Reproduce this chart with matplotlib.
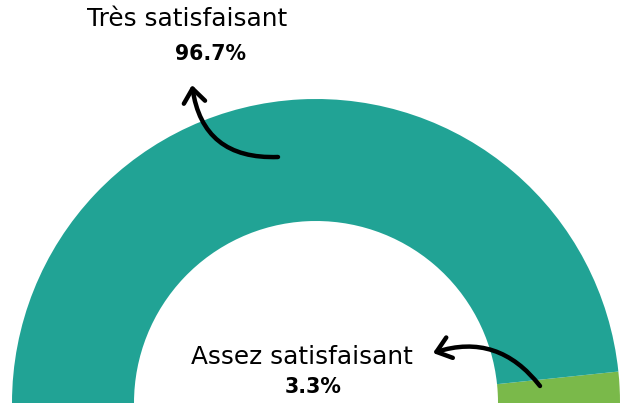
import matplotlib.pyplot as plt
from matplotlib.patches import Wedge, FancyArrowPatch

# Data
labels = ['Très satisfaisant', 'Assez satisfaisant']
values = [96.7, 3.3]
colors = ['#21a395', '#7ab94a']

plt.rcParams['font.family'] = ['DejaVu Sans']

fig = plt.figure(figsize=(6.29, 4.03), dpi=100)
ax = fig.add_axes([0, 0, 1, 1])
ax.set_xlim(0, 629)
ax.set_ylim(0, 403)
ax.set_aspect('equal')
ax.axis('off')

cx, cy = 316, 0
r_out, r_in = 304, 182

# half donut, drawn from the right end (0 deg) to the left (180 deg)
total = sum(values)
start = 0
for v, c in zip(values[::-1], colors[::-1]):
    span = 180 * v / total
    ax.add_patch(Wedge((cx, cy), r_out, start, start + span,
                       width=r_out - r_in, facecolor=c, edgecolor='none'))
    start += span

# labels
ax.text(187, 384, labels[0], ha='center', va='center', fontsize=17.8)
ax.text(210, 349, f'{values[0]}%', ha='center', va='center', fontsize=14.8,
        fontweight='bold')
ax.text(302, 46, labels[1], ha='center', va='center', fontsize=17.8)
ax.text(313, 16, f'{values[1]}%', ha='center', va='center', fontsize=14.8,
        fontweight='bold')

# curved arrows
arrow_kw = dict(arrowstyle='->,head_length=0.45,head_width=0.35', lw=3.2,
                mutation_scale=22, color='black', capstyle='round',
                joinstyle='round', shrinkA=0, shrinkB=0)
ax.add_patch(FancyArrowPatch((278, 246), (192, 318),
                             connectionstyle='arc3,rad=-0.45', **arrow_kw))
ax.add_patch(FancyArrowPatch((540, 17), (433, 50),
                             connectionstyle='arc3,rad=0.35', **arrow_kw))

fig.savefig('out.png', dpi=100)
